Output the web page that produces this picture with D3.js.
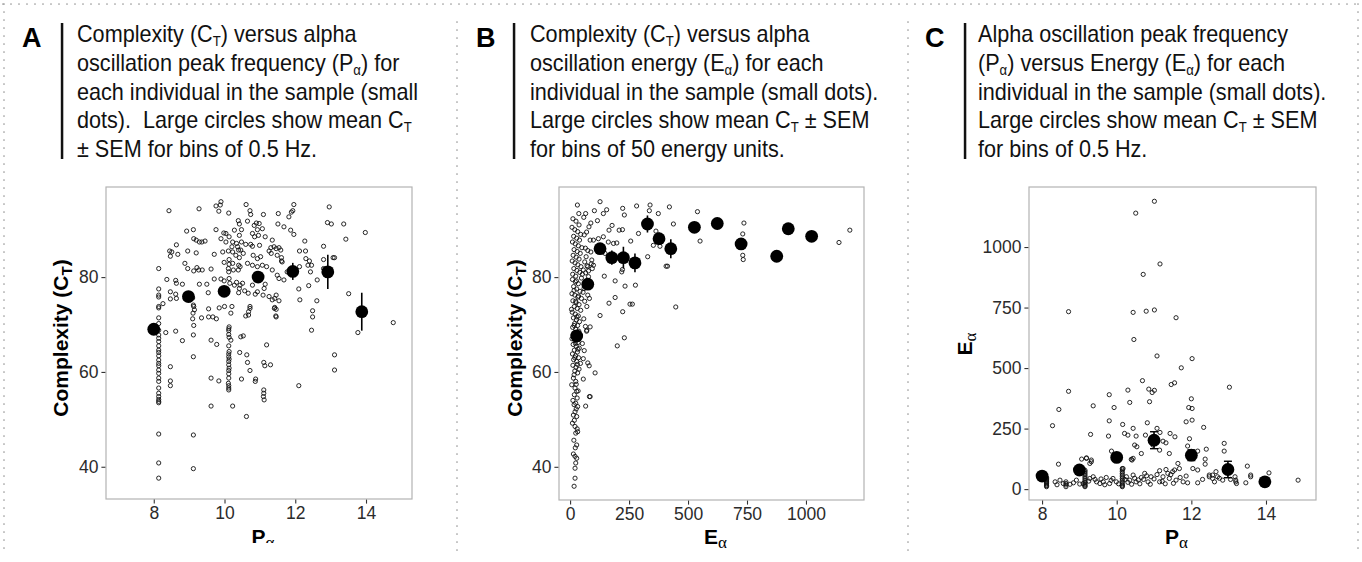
<!DOCTYPE html>
<html>
<head>
<meta charset="utf-8">
<script src="https://cdn.jsdelivr.net/npm/d3@7"></script>
<style>
  body { margin: 0; background: #fff; }
  svg { display: block; }
  .cap text { white-space: pre; }
</style>
</head>
<body>
<div class="chart"></div>
<script>
// ---- panel captions ----
const aLetter = "A", bLetter = "B", cLetter = "C";
const aCaption = [
  "Complexity (C_{T}) versus alpha",
  "oscillation peak frequency (P_{α}) for",
  "each individual in the sample (small",
  "dots).  Large circles show mean C_{T}",
  "± SEM for bins of 0.5 Hz."
];
const bCaption = [
  "Complexity (C_{T}) versus alpha",
  "oscillation energy (E_{α}) for each",
  "individual in the sample (small dots).",
  "Large circles show mean C_{T} ± SEM",
  "for bins of 50 energy units."
];
const cCaption = [
  "Alpha oscillation peak frequency",
  "(P_{α}) versus Energy (E_{α}) for each",
  "individual in the sample (small dots).",
  "Large circles show mean C_{T} ± SEM",
  "for bins of 0.5 Hz."
];

// ---- tick labels ----
const aXTicks = [8, 10, 12, 14];
const aYTicks = [40, 60, 80];
const bXTicks = [0, 250, 500, 750, 1000];
const bYTicks = [40, 60, 80];
const cXTicks = [8, 10, 12, 14];
const cYTicks = [0, 250, 500, 750, 1000];

// ---- panel A: peak frequency vs complexity ----
const aPts = [
  [8.43,94.0],[9.28,94.4],[9.76,95.0],[9.90,95.9],[9.88,95.2],[9.84,93.9],[10.12,93.5],[10.61,95.3],[10.72,94.0],[10.74,93.2],[11.10,93.2],[11.52,93.4],[11.96,95.3],[11.93,94.0],[11.89,93.7],[11.82,92.7],[12.96,94.8],
  [10.65,91.8],[10.39,91.9],[10.42,91.2],[10.90,91.4],[10.98,91.3],[10.84,90.9],[11.07,90.2],[10.93,90.0],[11.51,91.2],[11.68,90.6],[11.87,89.9],[11.96,89.0],[12.91,91.5],[13.02,91.2],[13.37,91.2],[13.98,89.4],[13.43,88.0],
  [8.93,89.7],[9.12,90.0],[9.76,90.0],[9.98,89.3],[10.04,89.2],[10.28,89.9],[10.48,90.0],[10.42,88.8],[10.79,89.2],[10.96,88.8],[10.85,88.5],[11.15,88.5],[11.35,87.8],
  [9.13,88.1],[9.20,87.8],[9.29,87.4],[9.36,87.4],[9.45,87.6],[9.90,88.1],[10.13,88.5],[10.04,87.4],[10.23,87.4],[10.34,87.1],[10.48,87.4],[10.21,86.4],[10.37,86.4],[10.40,85.7],[10.60,86.9],[10.74,86.9],[10.79,86.5],[10.99,86.7],[11.31,86.2],[11.40,86.4],[11.46,86.0],[11.54,86.2],[11.59,85.7],[12.27,87.6],[12.80,86.5],
  [8.47,84.4],[8.45,85.5],[8.51,85.3],[8.64,86.8],[8.68,84.8],[8.96,85.5],[9.20,85.1],[9.71,84.8],[9.95,85.3],[10.11,85.5],[10.23,85.3],[10.32,84.6],[10.46,85.7],[10.53,85.0],[10.42,84.1],[10.13,83.7],[10.23,82.9],[10.40,82.5],[10.81,84.6],[10.93,83.9],[11.02,84.3],[11.26,85.5],[11.32,85.0],[11.49,84.6],[11.61,84.1],[11.61,83.4],[11.63,83.2],[12.12,85.5],[12.29,85.5],[12.30,83.9],[12.40,83.4],[12.46,82.5],[12.80,83.7],[13.07,84.1],[13.11,84.1],
  [8.14,81.8],[8.88,82.9],[8.96,81.8],[9.22,82.0],[9.13,81.3],[9.27,81.5],[9.37,81.5],[9.62,81.7],[9.99,83.1],[10.13,82.7],[10.11,81.8],[10.12,81.1],[10.25,81.5],[10.39,81.5],[10.44,82.2],[10.65,82.9],[10.79,82.5],[10.93,82.2],[11.07,82.5],[11.19,82.2],[11.35,81.5],[11.49,80.4],[11.54,79.7],[11.68,79.4],[11.77,81.1],[12.12,82.2],[12.36,82.5],[12.43,81.1],[12.62,79.4],[12.80,81.8],
  [8.37,79.5],[8.62,79.3],[8.64,78.7],[8.81,78.5],[8.47,76.9],[8.62,76.4],[8.47,75.4],[8.64,75.5],[8.89,75.4],[9.03,75.2],[9.10,75.6],[9.29,78.5],[9.50,78.5],[9.54,76.7],[9.71,79.6],[9.90,79.6],[9.99,79.2],[10.13,79.7],[10.15,78.7],[10.28,78.3],[10.34,78.9],[10.44,78.3],[10.42,77.6],[10.51,78.7],[10.67,76.6],[10.40,76.7],[10.57,77.1],[10.79,78.3],[10.87,76.4],[10.93,76.9],[11.12,77.6],[11.15,78.5],[11.09,76.2],[11.26,75.9],[11.35,75.2],[11.42,75.5],[11.46,76.2],[11.54,75.0],[12.13,75.2],[12.10,77.5],[12.38,78.2],[12.61,75.0],[13.51,76.5],
  [8.14,77.5],[8.14,76.2],[8.14,75.8],[8.26,74.4],[8.14,73.8],[8.14,73.5],[8.14,71.4],[8.14,70.2],[9.12,74.1],[9.13,73.8],[9.15,73.1],[9.11,72.4],[9.10,71.2],[9.13,69.8],[9.12,67.8],[9.55,73.3],[9.55,71.6],[9.35,71.4],[9.67,71.6],[9.77,71.2],[9.85,73.5],[10.0,73.8],[10.21,73.8],[10.18,72.4],[10.72,73.8],[10.72,73.4],[10.68,72.0],[10.60,71.8],[10.68,72.7],[11.42,73.6],[11.46,73.2],[11.45,71.8],[11.46,71.6],[11.41,73.4],[12.49,72.9],[12.49,71.6],[12.46,68.8],[13.77,68.3],[14.77,70.4],[13.86,72.4],
  [8.14,68.8],[8.14,67.8],[8.14,67.1],[8.14,66.4],[8.14,65.5],[8.14,64.6],[8.14,64.1],[8.14,63.4],[8.14,62.5],[8.14,61.8],[8.14,61.3],[8.14,60.4],[8.14,59.7],[8.14,58.7],[8.14,58.0],[8.14,56.6],[8.14,55.5],[8.14,54.8],[8.14,54.2],[8.14,53.8],[8.14,53.5],[8.14,46.9],[8.14,40.8],[8.14,37.6],
  [8.34,68.3],[8.62,68.6],[8.81,66.6],[9.12,63.2],[9.62,66.7],[9.78,65.8],[10.12,68.7],[10.12,69.1],[10.13,69.5],[10.12,67.9],[10.13,67.3],[10.18,66.7],[10.12,65.5],[10.13,64.3],[10.12,63.8],[10.12,63.2],[10.13,62.7],[10.12,62.2],[10.12,61.5],[10.13,60.8],[10.12,60.3],[10.12,59.6],[10.12,58.7],[10.11,57.6],[10.12,56.6],[10.12,56.2],[10.46,67.4],[10.53,67.6],[10.43,64.1],[10.63,63.6],[10.65,62.0],[10.72,60.3],[10.88,58.5],[11.19,65.7],[11.11,62.0],[11.14,61.3],[11.30,61.5],[11.11,56.2],[11.11,55.5],[11.10,54.8],[13.11,63.6],[13.11,60.4],[12.10,57.1],
  [8.47,61.1],[8.47,58.1],[8.47,57.1],[9.62,58.7],[9.84,58.1],[10.48,58.5],[9.12,46.7],[9.12,39.6],[9.62,52.8],[10.12,57.1],[10.23,52.8],[10.62,50.6],[10.87,58.0],[11.12,54.1]
];
const aBinX = [8, 8.98, 9.99, 10.95, 11.93, 12.92, 13.88];
const aBinY = [69.0, 75.9, 77.0, 80.0, 81.2, 81.1, 72.7];
const aBinSem = [0.6, 0.8, 0.9, 1.0, 1.8, 3.6, 4.0];

// ---- panel B: energy vs complexity ----
const bPts = [
  [1186,89.9],[1140,87.3],[737,91.4],[732,89.1],[732,84.6],[734,83.7],[551,87.6],[540,93.8],[438,91.2],[421,94.8],[448,73.7],[374,93.4],[339,95.2],[336,94.0],[282,95.0],[223,94.5],[230,93.1],[155,94.2],[127,95.9],[103,94.0],[66,93.4],[31,95.2],[37,93.4],[88,91.4],[116,91.9],[141,93.4],[165,89.9],[208,89.9],[222,90.0],[178,90.9],[257,87.6],[290,89.2],[329,84.3],[381,86.5],[407,82.3],[413,82.3],[353,86.7],[364,89.7],
  [145,80.2],[191,79.2],[219,81.1],[222,81.6],[233,78.1],[277,78.3],[191,75.7],[165,74.5],[223,72.7],[254,74.3],[264,74.3],[127,71.9],[200,65.5],[230,67.2],[106,59.8],[85,54.8],
  [99,87.8],[120,88.1],[141,88.5],[162,87.4],[184,87.1],[198,87.2],[134,85.7],[148,85.0],[88,85.3],[68,84.3],[92,83.6],[99,82.5],[75,82.2],[56,81.5],[78,80.1],[59,77.6],[75,76.2],[82,75.5],[71,73.8],[85,69.5],[71,68.8],
  [14,58.7],[24,58.0],[7,57.3],[21,56.6],[28,55.9],[18,55.2],[30,54.5],[24,53.4],[17,53.1],[32,52.7],[21,51.6],[14,50.9],[28,50.6],[10,49.2],[21,48.5],[24,47.1],[32,47.4],[28,44.6],[14,42.7],[21,42.2],[28,41.8],[24,40.8],[21,39.7],[21,37.6],[17,35.9],[82,54.8],[66,52.8],[56,58.5],[81,61.3],
  [10,79.5],[22,79.0],[35,78.6],[15,78.0],[28,77.5],[42,77.0],[8,76.5],[20,76.2],[33,75.8],[48,75.5],[12,75.0],[25,74.6],[38,74.2],[18,73.8],[30,73.4],[45,73.0],[9,72.6],[22,72.2],[35,71.8],[14,71.4],[27,71.0],[40,70.6],[19,70.2],[32,69.8],[11,69.4],[24,69.0],[37,68.6],[16,68.2],[29,67.8],[42,67.4],[8,67.0],[21,66.6],[34,66.2],[13,65.8],[26,65.4],[39,65.0],[18,64.6],[31,64.2],[10,63.8],[23,63.4],[36,63.0],[15,62.6],[28,62.2],[44,61.8],[12,61.4],[25,61.0],[38,60.6],[20,60.2],[32,59.8],
  [27,79.2],[17,77.2],[36,76.0],[24,74.9],[6,73.2],[29,71.6],[17,69.8],[30,68.0],[23,66.0],[33,64.8],[20,63.0],[31,61.6],[17,59.4],[26,57.4],[34,56.0],[12,54.0],[26,52.2],[18,49.8],[30,48.0],[16,45.6],[22,44.0],
  [55,76.8],[62,74.9],[58,71.2],[65,69.6],[70,68.6],[52,66.0],[60,64.5],[56,62.8],[75,61.9],[48,79.8],[52,80.6],
  [12,92.3],[25,91.8],[38,91.0],[8,90.5],[20,90.0],[32,89.6],[45,89.0],[15,88.6],[28,88.2],[40,87.8],[10,87.4],[22,87.0],[35,86.6],[50,86.2],[17,85.8],[30,85.4],[43,85.0],[13,84.6],[26,84.2],[38,83.8],[9,83.4],[21,83.0],[33,82.6],[46,82.2],[16,81.8],[29,81.4],[41,81.0],[11,80.6],[24,80.2],
  [60,88.9],[70,89.5],[80,90.6],[58,92.6],[65,86.1],[75,85.6],[85,87.8],[62,83.2],[72,82.4],[90,82.8],[66,80.9],[78,81.3],[94,81.8]
];
const bBinX = [28, 75, 127, 177, 226, 275, 328, 377, 427, 527, 624, 725, 876, 925, 1024];
const bBinY = [67.6, 78.5, 86.0, 84.1, 84.1, 83.0, 91.2, 88.1, 86.0, 90.5, 91.3, 87.0, 84.4, 90.2, 88.6];
const bBinSem = [0.8, 1.2, 1.0, 1.5, 2.3, 2.0, 1.8, 1.3, 2.0, 1.0, 0.5, 1.0, 0, 0, 0];

// ---- panel C: peak frequency vs energy ----
const cPts = [
  [11.01,1189],[10.51,1140],[11.16,930],[10.71,887],[8.71,733],[10.44,730],[10.79,735],[11.01,740],[11.59,708],[10.46,618],[11.08,550],[12.02,539],[11.73,501],[10.69,448],[8.71,404],[9.80,390],[10.30,409],[10.86,413],[10.95,399],[11.01,408],[11.46,432],[11.55,439],[13.02,421],[12.0,373],
  [8.45,329],[8.28,262],[9.37,344],[9.80,282],[9.93,337],[10.35,358],[10.88,361],[10.82,274],[10.16,267],[10.44,251],[9.30,226],[9.78,219],[10.21,230],[10.30,223],[10.52,219],[10.77,223],[11.08,251],[11.16,234],[11.43,230],[11.56,216],[11.24,198],[11.32,191],[11.86,278],[11.93,337],[12.02,333],[12.02,285],[12.33,255],[11.95,208],[11.90,178],[12.17,157],[12.40,165],[12.37,124],[12.37,103],[12.88,189],[12.88,157],[13.50,95],[13.59,51],[14.08,67],[13.46,26],[14.86,37],
  [8.44,103],[9.06,124],[9.19,129],[9.32,113],[9.86,157],[10.04,134],[10.17,85],[10.41,120],[10.48,182],[10.54,175],[10.66,147],[10.97,182],[11.15,161],[11.41,147],[11.64,106],[11.68,85],[11.55,79],[11.37,65],[12.04,85],[12.17,79],[12.48,58],[12.70,51],[12.57,44],[13.17,51],[13.19,37],[13.21,23],
  [8.35,30],[8.48,37],[8.57,23],[8.84,26],[8.92,37],[9.01,21],[9.10,23],[9.28,44],[9.37,51],[9.46,30],[9.55,23],[9.64,30],[9.72,48],[9.81,23],[9.90,44],[9.99,30],[10.26,51],[10.35,37],[10.44,58],[10.52,30],[10.66,48],[10.75,65],[10.84,30],[10.92,51],[11.15,30],[11.15,76],[11.24,51],[11.32,81],[11.41,44],[11.50,72],[11.59,37],[11.86,54],[11.90,26],[12.17,26],[12.48,51],[12.57,58],[12.66,72],[12.84,37],[13.19,30],[13.59,58],[13.99,23],
  [8.40,18],[8.75,20],[9.25,33],[9.42,40],[9.58,42],[9.68,18],[9.85,36],[10.05,22],[10.22,40],[10.30,28],[10.40,20],[10.48,45],[10.58,38],[10.62,22],[10.72,40],[10.80,55],[10.90,20],[11.00,42],[11.08,60],[11.22,32],[11.30,22],[11.45,60],[11.52,24],[11.70,48],[11.78,30],[12.30,40],[12.62,30],[12.75,45],[13.05,40],
  [8.12,48],[8.12,44],[8.12,40],[8.12,37],[8.12,33],[8.12,30],[8.12,26],[8.12,22],[8.12,17],[8.12,14],[8.12,10],
  [8.64,30],[8.64,23],[8.64,17],[8.64,10],
  [9.15,78],[9.15,72],[9.15,65],[9.15,58],[9.15,51],[9.15,44],[9.15,37],[9.15,30],[9.15,26],[9.15,21],[9.15,17],[9.15,13],[9.15,10],
  [10.15,85],[10.15,79],[10.15,72],[10.15,65],[10.15,58],[10.15,51],[10.15,44],[10.15,37],[10.15,30],[10.15,23],[10.15,17],[10.15,13],[10.15,10],
  [9.28,106],[9.32,120],[9.19,127],[10.44,127],[10.39,123]
];
const cBinX = [8.0, 9.0, 10.0, 11.0, 12.0, 12.98, 13.97];
const cBinY = [54, 79, 131, 202, 140, 81, 30];
const cBinSem = [6, 8, 12, 35, 22, 34, 5];

// ---- drawing ----
const W = 1362, H = 562;
const svg = d3.select(".chart")
  .append("svg")
    .attr("width", W)
    .attr("height", H)
    .style("font-family", "'Liberation Sans', Arial, sans-serif");

// dotted frame around the figure
const dotted = [
  [3, 4, 1358, 4], [4, 4, 4, 556], [1358, 4, 1358, 556],
  [457, 22, 457, 556], [908, 22, 908, 556]
];
svg.selectAll("line.frame")
  .data(dotted)
  .enter().append("line")
    .attr("class", "frame")
    .attr("x1", d => d[0]).attr("y1", d => d[1])
    .attr("x2", d => d[2]).attr("y2", d => d[3])
    .attr("stroke", "#999")
    .attr("stroke-width", 1.7)
    .attr("stroke-linecap", "round")
    .attr("stroke-dasharray", "0,8");

// writes a string with _{...} subscripts into a text element
function rich(text, str, subSize, shift, subFamily) {
  let pending = 0;
  str.split(/(_\{[^}]*\})/).forEach(part => {
    if (!part) return;
    if (part.startsWith("_{")) {
      const t = text.append("tspan")
        .attr("font-size", subSize)
        .attr("dy", shift - pending)
        .text(part.slice(2, -1));
      if (subFamily) t.attr("font-family", subFamily).attr("font-weight", "normal");
      pending = shift;
    } else {
      text.append("tspan").attr("dy", -pending).text(part);
      pending = 0;
    }
  });
}

// caption block: letter, black bar, 5 lines of text
function caption(letterX, barX, textX, letter, lines) {
  svg.append("text")
    .attr("x", letterX).attr("y", 47)
    .attr("font-size", 27).attr("font-weight", "bold")
    .attr("fill", "#000")
    .text(letter);
  svg.append("rect")
    .attr("x", barX - 1.2).attr("y", 23)
    .attr("width", 2.5).attr("height", 136)
    .attr("fill", "#111");
  const g = svg.append("g")
    .attr("class", "cap")
    .attr("transform", `translate(${textX},0) scale(0.94,1)`);
  lines.forEach((ln, i) => {
    const t = g.append("text")
      .attr("x", 0).attr("y", 42 + i * 28.8)
      .attr("font-size", 23).attr("fill", "#111");
    rich(t, ln, 14, 4);
  });
}

caption(22, 62, 77, aLetter, aCaption);
caption(476, 514, 530, bLetter, bCaption);
caption(925, 965, 978, cLetter, cCaption);

// one scatter panel
function panel(o) {
  const g = svg.append("g");
  const x = d3.scaleLinear().domain(o.xDom).range([o.left, o.right]);
  const y = d3.scaleLinear().domain(o.yDom).range([o.bottom, o.top]);

  g.append("rect")
    .attr("x", o.left).attr("y", o.top)
    .attr("width", o.right - o.left).attr("height", o.bottom - o.top)
    .attr("fill", "#fff")
    .attr("stroke", "#b3b3b3").attr("stroke-width", 1.2);

  const xa = g.append("g")
    .attr("transform", `translate(0,${o.bottom + 0.6})`)
    .call(d3.axisBottom(x).tickValues(o.xTicks).tickSize(4).tickPadding(3).tickFormat(d3.format("d")));
  const ya = g.append("g")
    .attr("transform", `translate(${o.left - 0.6},0)`)
    .call(d3.axisLeft(y).tickValues(o.yTicks).tickSize(4).tickPadding(3).tickFormat(d3.format("d")));
  [xa, ya].forEach(a => {
    a.select(".domain").remove();
    a.selectAll(".tick line").attr("stroke", "#333").attr("stroke-width", 1.1);
    a.selectAll(".tick text")
      .attr("fill", "#2b2b2b")
      .style("font-size", "17.5px")
      .style("font-family", "'Liberation Sans', Arial, sans-serif");
  });

  // individual dots
  g.append("g").selectAll("circle")
    .data(o.pts)
    .enter().append("circle")
      .attr("cx", d => x(d[0]))
      .attr("cy", d => y(d[1]))
      .attr("r", 2.1)
      .attr("fill", "none")
      .attr("stroke", "#111")
      .attr("stroke-width", 0.9);

  // bin means with SEM
  const bins = o.binX.map((v, i) => ({x: v, y: o.binY[i], s: o.binSem[i]}));
  const eb = g.append("g");
  eb.selectAll("line.err")
    .data(bins.filter(d => d.s > 0))
    .enter().append("line")
      .attr("x1", d => x(d.x)).attr("x2", d => x(d.x))
      .attr("y1", d => y(d.y - d.s)).attr("y2", d => y(d.y + d.s))
      .attr("stroke", "#000").attr("stroke-width", 1.6);
  if (o.caps) {
    bins.filter(d => d.s > 0).forEach(d => {
      [d.y - d.s, d.y + d.s].forEach(v => {
        eb.append("line")
          .attr("x1", x(d.x) - 4).attr("x2", x(d.x) + 4)
          .attr("y1", y(v)).attr("y2", y(v))
          .attr("stroke", "#000").attr("stroke-width", 1.4);
      });
    });
  }
  g.append("g").selectAll("circle")
    .data(bins)
    .enter().append("circle")
      .attr("cx", d => x(d.x))
      .attr("cy", d => y(d.y))
      .attr("r", 6.4)
      .attr("fill", "#000");

  // axis titles
  const xt = g.append("text")
    .attr("x", (o.left + o.right) / 2 + 4).attr("y", 544)
    .attr("text-anchor", "middle")
    .attr("font-size", 21).attr("font-weight", "bold").attr("fill", "#000");
  rich(xt, o.xTitle, 17, 4, "'Liberation Serif', serif");
  if (o.clipTitle) xt.attr("clip-path", "url(#clipA)");

  const yt = g.append("text")
    .attr("transform", `translate(${o.yTitleX},${o.yTitleY}) rotate(-90)`)
    .attr("text-anchor", "middle")
    .attr("font-size", 21).attr("font-weight", "bold").attr("fill", "#000");
  rich(yt, o.yTitle, o.ySubSize, 4, o.ySubFamily);
}

// A panel image is cut off just under the x title
svg.append("clipPath").attr("id", "clipA")
  .append("rect").attr("x", 0).attr("y", 0).attr("width", 457).attr("height", 543);

panel({
  left: 106, right: 412, top: 187, bottom: 499,
  xDom: [6.65, 15.3], yDom: [33.2, 99.0],
  xTicks: aXTicks, yTicks: aYTicks,
  pts: aPts, binX: aBinX, binY: aBinY, binSem: aBinSem, caps: false,
  xTitle: "P_{α}", yTitle: "Complexity (C_{T})", ySubSize: 15, ySubFamily: null,
  yTitleX: 68, yTitleY: 338, clipTitle: true
});
panel({
  left: 559, right: 864, top: 187, bottom: 500,
  xDom: [-47, 1246], yDom: [33.0, 99.0],
  xTicks: bXTicks, yTicks: bYTicks,
  pts: bPts, binX: bBinX, binY: bBinY, binSem: bBinSem, caps: false,
  xTitle: "E_{α}", yTitle: "Complexity (C_{T})", ySubSize: 15, ySubFamily: null,
  yTitleX: 522, yTitleY: 338, clipTitle: false
});
panel({
  left: 1029, right: 1316, top: 187, bottom: 500,
  xDom: [7.65, 15.34], yDom: [-45, 1248],
  xTicks: cXTicks, yTicks: cYTicks,
  pts: cPts, binX: cBinX, binY: cBinY, binSem: cBinSem, caps: true,
  xTitle: "P_{α}", yTitle: "E_{α}", ySubSize: 17, ySubFamily: "'Liberation Serif', serif",
  yTitleX: 972, yTitleY: 344, clipTitle: false
});
</script>
</body>
</html>
